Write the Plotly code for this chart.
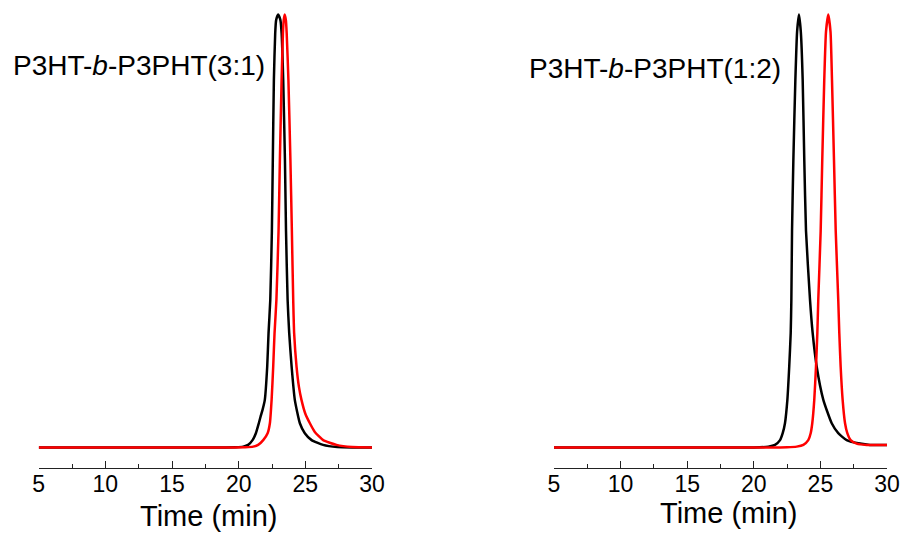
import plotly.graph_objects as go

# GPC elution traces: retention time (min) vs normalised detector signal
# Panel (a): P3HT-b-P3PHT(3:1)
a_black_t = [5, 12, 18, 19.8, 20.34, 20.71, 21.04, 21.29, 21.51, 21.64, 21.79, 21.96,
             22.14, 22.24, 22.37, 22.49, 22.56, 22.64, 22.74, 22.81, 22.96, 23.13,
             23.22, 23.34, 23.47, 23.55, 23.67, 23.79, 23.97, 24.21, 24.59, 24.96,
             25.47, 26.33, 27.4, 28.5, 30]
a_black_i = [0, 0, 0, 0.0005, 0.002, 0.006, 0.017, 0.033, 0.056, 0.071, 0.087, 0.110,
             0.187, 0.264, 0.341, 0.50, 0.664, 0.849, 0.957, 0.987, 1.0, 0.987,
             0.957, 0.849, 0.664, 0.50, 0.341, 0.264, 0.187, 0.110, 0.056, 0.033,
             0.017, 0.006, 0.001, 0, 0]

a_red_t = [5, 12, 19, 20.5, 21.09, 21.46, 21.84, 22.17, 22.34, 22.47, 22.59, 22.69,
           22.83, 22.99, 23.09, 23.22, 23.32, 23.38, 23.45, 23.54, 23.60, 23.73,
           23.88, 23.99, 24.09, 24.16, 24.34, 24.52, 24.71, 25.0, 25.34, 25.71,
           26.34, 27.34, 28.5, 30]
a_red_i = [0, 0, 0, 0.0005, 0.002, 0.006, 0.017, 0.033, 0.056, 0.110, 0.187, 0.264,
           0.341, 0.50, 0.664, 0.849, 0.957, 0.987, 1.0, 0.987, 0.957, 0.849,
           0.664, 0.50, 0.341, 0.264, 0.187, 0.140, 0.110, 0.078, 0.056, 0.036,
           0.017, 0.006, 0.001, 0]

# Panel (b): P3HT-b-P3PHT(1:2)
b_black_t = [5, 15, 20, 21.09, 21.59, 21.97, 22.17, 22.34, 22.52, 22.66, 22.77, 22.82,
             22.87, 22.97, 23.12, 23.25, 23.39, 23.53, 23.67, 23.79, 23.92, 24.22,
             24.42, 24.72, 25.22, 25.85, 26.34, 26.97, 27.97, 28.72, 30]
b_black_i = [0, 0, 0, 0.002, 0.006, 0.017, 0.033, 0.056, 0.110, 0.187, 0.264, 0.341,
             0.50, 0.664, 0.849, 0.96, 1.0, 0.96, 0.849, 0.664, 0.50, 0.341,
             0.264, 0.187, 0.110, 0.056, 0.033, 0.017, 0.009, 0.006, 0.006]

b_red_t = [5, 15, 21, 22.5, 23.22, 23.72, 24.09, 24.27, 24.39, 24.54, 24.67, 24.77,
           24.84, 25.02, 25.14, 25.29, 25.42, 25.59, 25.76, 25.87, 26.02, 26.15,
           26.34, 26.42, 26.52, 26.67, 26.85, 27.02, 27.27, 27.72, 28.47, 30]
b_red_i = [0, 0, 0, 0.0005, 0.002, 0.006, 0.017, 0.033, 0.056, 0.110, 0.187, 0.264,
           0.341, 0.50, 0.664, 0.849, 0.96, 1.0, 0.96, 0.849, 0.664, 0.50,
           0.341, 0.264, 0.187, 0.110, 0.056, 0.033, 0.017, 0.009, 0.006, 0.006]

panel_labels = ["P3HT-<i>b</i>-P3PHT(3:1)", "P3HT-<i>b</i>-P3PHT(1:2)"]
x_title = "Time (min)"
x_ticks = [5, 10, 15, 20, 25, 30]

W, H = 904, 534
FONT = "Liberation Sans, Arial, sans-serif"
LW = 2.5
SMOOTH = 0.5


def trace(t, i, color, xa, ya):
    return go.Scatter(x=t, y=i, mode="lines", xaxis=xa, yaxis=ya,
                      line=dict(color=color, width=LW, shape="spline", smoothing=SMOOTH))


fig = go.Figure()
fig.add_trace(trace(a_black_t, a_black_i, "#000000", "x", "y"))
fig.add_trace(trace(a_red_t, a_red_i, "#ff0000", "x", "y"))
fig.add_trace(trace(b_black_t, b_black_i, "#000000", "x2", "y2"))
fig.add_trace(trace(b_red_t, b_red_i, "#ff0000", "x2", "y2"))

axis_bottom = 467.7  # pixel row of the time axis
y_dom = [(H - axis_bottom) / H, 1]
y_rng = [-0.0467, 1.0335]

xcommon = dict(range=[5, 30], tickvals=x_ticks, ticks="inside", ticklen=7, tickwidth=1.3,
               tickcolor="#222222", showline=True, linecolor="#222222", linewidth=1.3,
               showgrid=False, zeroline=False, automargin=False, ticklabelstandoff=-4,
               tickfont=dict(family=FONT, size=23, color="#000000"),
               minor=dict(dtick=2.5, tick0=5, ticks="inside", ticklen=4, tickwidth=1.3,
                          tickcolor="#222222", showgrid=False))

ycommon = dict(range=y_rng, domain=y_dom, visible=False, showgrid=False,
               zeroline=False, automargin=False)

fig.update_layout(
    width=W, height=H,
    margin=dict(l=0, r=0, t=0, b=0, autoexpand=False),
    paper_bgcolor="white", plot_bgcolor="white",
    showlegend=False,
    xaxis=dict(domain=[38.7 / W, 372 / W], anchor="y", **xcommon),
    xaxis2=dict(domain=[554 / W, 887 / W], anchor="y2", **xcommon),
    yaxis=dict(anchor="x", **ycommon),
    yaxis2=dict(anchor="x2", **ycommon),
)


def px_x(p):
    return p / W


def px_y(p):
    return (H - p) / H


annos = [
    dict(text=panel_labels[0], x=px_x(267), y=px_y(66), xanchor="right", yanchor="middle",
         font=dict(family=FONT, size=28, color="#000000")),
    dict(text=panel_labels[1], x=px_x(783), y=px_y(69), xanchor="right", yanchor="middle",
         font=dict(family=FONT, size=28, color="#000000")),
    dict(text=x_title, x=px_x(208.5), y=px_y(516), xanchor="center", yanchor="middle",
         font=dict(family=FONT, size=29, color="#000000")),
    dict(text=x_title, x=px_x(728), y=px_y(513), xanchor="center", yanchor="middle",
         font=dict(family=FONT, size=29, color="#000000")),
]
for a in annos:
    a.update(xref="paper", yref="paper", showarrow=False)
fig.update_layout(annotations=annos)

fig.write_html("out.html")
